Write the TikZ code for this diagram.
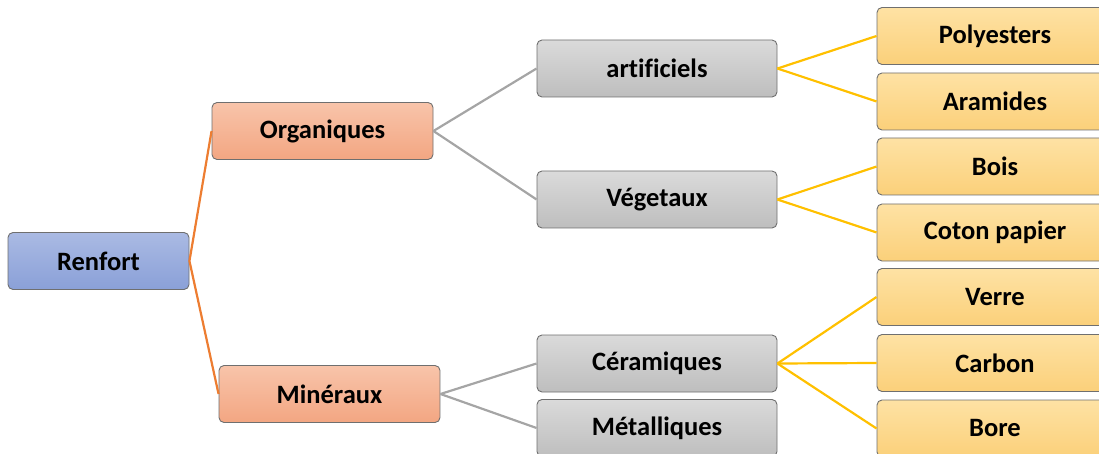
\documentclass[tikz,border=0pt]{standalone}
\usepackage{fontspec}
\setmainfont{Carlito}[Ligatures=NoCommon]
\usepackage{tikz}

\definecolor{boxline}{HTML}{6F6F6F}
\definecolor{orangeln}{HTML}{ED7D31}
\definecolor{grayln}{HTML}{A5A5A5}
\definecolor{goldln}{HTML}{FFC000}
\definecolor{blueTop}{HTML}{AABAE3}
\definecolor{blueBot}{HTML}{8AA0D8}
\definecolor{salTop}{HTML}{F8C4AA}
\definecolor{salBot}{HTML}{F3A682}
\definecolor{grTop}{HTML}{DADADA}
\definecolor{grBot}{HTML}{BEBEBE}
\definecolor{yTop}{HTML}{FEE2A4}
\definecolor{yBot}{HTML}{FBD07A}

\tikzset{
  box/.style={draw=boxline, line width=0.9pt, rounded corners=5pt, inner sep=0pt,
    font=\fontsize{26.5}{31}\selectfont\bfseries, minimum height=57pt},
  rootbox/.style={box, minimum width=181pt, top color=blueTop, bottom color=blueBot},
  midbox/.style={box, minimum width=221pt, top color=salTop, bottom color=salBot},
  grbox/.style={box, minimum width=240pt, top color=grTop, bottom color=grBot},
  leaf/.style={box, minimum width=236pt, top color=yTop, bottom color=yBot},
  orln/.style={orangeln, line width=2.2pt},
  grln/.style={grayln, line width=2.2pt},
  yln/.style={goldln, line width=2.2pt}
}

\begin{document}
\begin{tikzpicture}[x=1pt, y=-1pt]
	\useasboundingbox (0,0) rectangle (1099,454);
	% levels 1 and 2
	\node[rootbox] (renfort) at (98.5,261) {Renfort};
	\node[midbox] (org) at (322.5,131) {Organiques};
	\node[midbox] (min) at (329.5,394) {Minéraux};
	% level 3
	\node[grbox] (art) at (657,68.5) {artificiels};
	\node[grbox] (veg) at (657,199.5) {Végetaux};
	\node[grbox] (cer) at (657,363.5) {Céramiques};
	\node[grbox] (met) at (657,428) {Métalliques};
	% leaves
	\foreach \n/\t/\y in {poly/Polyesters/36, ara/Aramides/101.5, bois/Bois/166.5,
		coton/Coton papier/232.5, verre/Verre/297, carb/Carbon/363, bore/Bore/428.5}
		{\node[leaf] (\n) at (995,\y) {\t};}
	% connectors
	\draw[orln] (renfort.east) -- (org.west);
	\draw[orln] (renfort.east) -- (min.west);
	\draw[grln] (org.east) -- (art.west);
	\draw[grln] (org.east) -- (veg.west);
	\draw[grln] (min.east) -- (cer.west);
	\draw[grln] (min.east) -- (met.west);
	\foreach \a/\b in {art/poly, art/ara, veg/bois, veg/coton, cer/verre, cer/carb, cer/bore}
		{\draw[yln] (\a.east) -- (\b.west);}
\end{tikzpicture}
\end{document}
